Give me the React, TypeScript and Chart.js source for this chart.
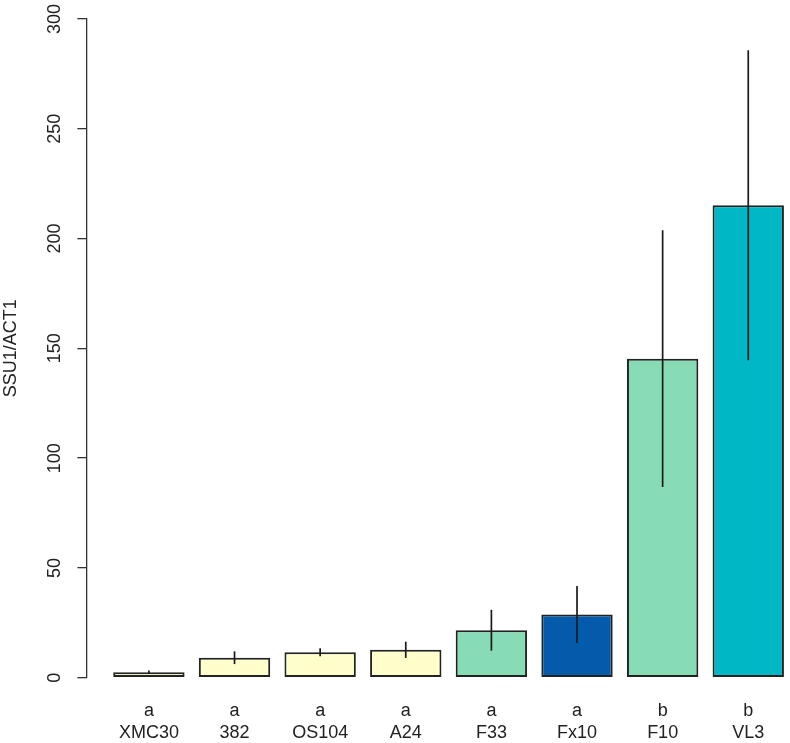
import React, { useEffect, useRef } from "react";
import { Chart, registerables } from "chart.js";

Chart.register(...registerables);

const strains = ["XMC30", "382", "OS104", "A24", "F33", "Fx10", "F10", "VL3"];
const groups = ["a", "a", "a", "a", "a", "a", "b", "b"];
const means = [2.5, 9.1, 11.6, 12.7, 21.6, 28.8, 145.3, 215.2];
const errors = [0.8, 2.9, 1.8, 3.7, 9.3, 13.0, 58.5, 70.6];
const colors = ["#FFFFCC", "#FFFFCC", "#FFFFCC", "#FFFFCC", "#87DCB5", "#045AAB", "#87DCB5", "#00B7C6"];
const yTicks = [0, 50, 100, 150, 200, 250, 300];
const yTitle = "SSU1/ACT1";

const FONT = "'Liberation Sans', Arial, Helvetica, sans-serif";

// R barplot layout: width 1, space 0.2 → bar centers at 0.7, 1.9, ...
const centers = strains.map((_, i) => 0.7 + 1.2 * i);

export default function App() {
  const ref = useRef<HTMLCanvasElement | null>(null);

  useEffect(() => {
    const canvas = ref.current;
    if (!canvas) return;

    const errorBars = {
      id: "errorBars",
      afterDatasetsDraw(chart: any) {
        const { ctx, scales } = chart;
        const xs = scales.x;
        const ys = scales.y;
        ctx.save();
        ctx.strokeStyle = "#1a1a1a";
        ctx.lineWidth = 1.7;
        means.forEach((m, i) => {
          const x = xs.getPixelForValue(centers[i]);
          const y1 = ys.getPixelForValue(m + errors[i]);
          const y2 = ys.getPixelForValue(m - errors[i]);
          ctx.beginPath();
          ctx.moveTo(x, y1);
          ctx.lineTo(x, y2);
          ctx.stroke();
        });
        ctx.restore();
      },
    };

    const yLabels = {
      id: "yLabels",
      afterDraw(chart: any) {
        const { ctx, scales } = chart;
        const ys = scales.y;
        ctx.save();
        ctx.fillStyle = "#222";
        ctx.font = `18px ${FONT}`;
        ctx.textAlign = "center";
        ctx.textBaseline = "middle";
        yTicks.forEach((v) => {
          const y = ys.getPixelForValue(v);
          ctx.save();
          ctx.translate(55, y);
          ctx.rotate(-Math.PI / 2);
          ctx.fillText(String(v), 0, 0);
          ctx.restore();
        });
        ctx.restore();
      },
    };

    const chart = new Chart(canvas, {
      type: "bar",
      data: {
        datasets: [
          {
            data: means.map((m, i) => ({ x: centers[i], y: m })),
            backgroundColor: colors,
            borderColor: "#222222",
            borderWidth: 2,
            borderSkipped: false,
            categoryPercentage: 1,
            barPercentage: 1 / 1.2,
          },
        ],
      },
      options: {
        responsive: false,
        animation: false,
        devicePixelRatio: 1,
        layout: { padding: { top: 19, left: 0, right: 0, bottom: 0 } },
        plugins: {
          legend: { display: false },
          tooltip: { enabled: false },
        },
        scales: {
          x: {
            type: "linear",
            offset: false,
            grace: 0,
            min: -0.176,
            max: 9.685,
            grid: { display: false, drawTicks: false, offset: false },
            border: { display: false },
            afterBuildTicks: (scale: any) => {
              scale.ticks = centers.map((v) => ({ value: v }));
            },
            afterFit: (scale: any) => {
              scale.height = 65.3;
            },
            ticks: {
              autoSkip: false,
              maxRotation: 0,
              minRotation: 0,
              padding: 22,
              color: "#222",
              font: { family: FONT, size: 18, lineHeight: 1.22 },
              callback: (_v: any, i: number) => [groups[i], strains[i]],
            },
          },
          y: {
            min: 0,
            max: 300,
            afterBuildTicks: (scale: any) => {
              scale.ticks = yTicks.map((v) => ({ value: v }));
            },
            afterFit: (scale: any) => {
              scale.width = 86.4;
            },
            grid: {
              drawOnChartArea: false,
              drawTicks: true,
              tickLength: 9,
              color: "#333",
              lineWidth: 1.3,
            },
            border: { display: true, color: "#333", width: 1.3 },
            ticks: { display: false },
            title: {
              display: true,
              text: yTitle,
              color: "#222",
              font: { family: FONT, size: 18 },
              padding: { top: 0, bottom: 0 },
            },
          },
        },
      },
      plugins: [errorBars, yLabels],
    });

    return () => chart.destroy();
  }, []);

  return (
    <div style={{ position: "fixed", top: 0, left: 0, width: 790, height: 743, background: "#fff", overflow: "hidden" }}>
      <canvas ref={ref} width={790} height={743} style={{ display: "block", width: 790, height: 743 }} />
    </div>
  );
}
